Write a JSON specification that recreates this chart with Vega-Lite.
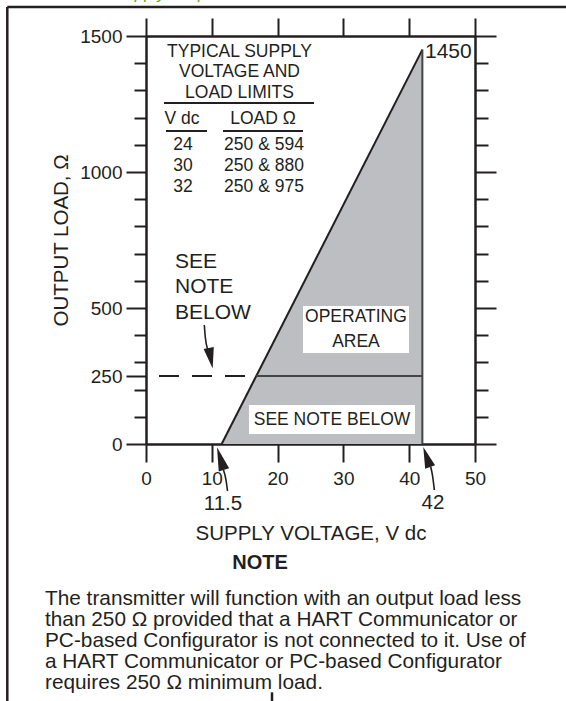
{
  "$schema": "https://vega.github.io/schema/vega-lite/v6.json",
  "width": 329,
  "height": 408,
  "autosize": {"type": "none"},
  "padding": {"left": 146, "top": 36, "right": 91, "bottom": 257},
  "background": "white",
  "config": {
    "view": {"stroke": null},
    "font": "Liberation Sans",
    "axis": {"grid": false, "zindex": 2, "domainColor": "#231f20", "domainWidth": 2.5, "tickColor": "#231f20", "tickWidth": 2, "labelColor": "#231f20", "titleColor": "#231f20", "labelFont": "Liberation Sans", "titleFont": "Liberation Sans", "titleFontWeight": "normal", "labelFlush": false, "labelOverlap": false, "format": "d"}
  },
  "datasets": {
    "poly": [{"x": 11.5, "y": 0}, {"x": 42, "y": 1450}],
    "table": [
      {"x": 14.21, "y": 1441, "t": "TYPICAL SUPPLY"},
      {"x": 14.21, "y": 1367.6, "t": "VOLTAGE AND"},
      {"x": 14.21, "y": 1290.4, "t": "LOAD LIMITS"},
      {"x": 5.47, "y": 1194.9, "t": "V dc"},
      {"x": 17.78, "y": 1194.9, "t": "LOAD Ω"},
      {"x": 5.62, "y": 1099.3, "t": "24"},
      {"x": 17.93, "y": 1099.3, "t": "250 & 594"},
      {"x": 5.62, "y": 1022, "t": "30"},
      {"x": 17.93, "y": 1022, "t": "250 & 880"},
      {"x": 5.62, "y": 944.9, "t": "32"},
      {"x": 17.93, "y": 944.9, "t": "250 & 975"},
      {"x": 31.91, "y": 466.9, "t": "OPERATING"},
      {"x": 31.91, "y": 375, "t": "AREA"},
      {"x": 28.27, "y": 88.2, "t": "SEE NOTE BELOW"}
    ],
    "underlines": [
      {"x": 2.74, "x2": 25.53, "y": 1253.7},
      {"x": 3.04, "x2": 9.27, "y": 1150.7},
      {"x": 11.7, "x2": 23.86, "y": 1150.7}
    ],
    "boxes": [
      {"x": 23.86, "x2": 39.97, "y": 334.6, "y2": 507.4},
      {"x": 15.65, "x2": 40.88, "y": 36.8, "y2": 143.4}
    ],
    "leftnote": [
      {"x": 4.41, "y": 669, "t": "SEE"},
      {"x": 4.41, "y": 577, "t": "NOTE"},
      {"x": 4.41, "y": 481.6, "t": "BELOW"},
      {"x": 42.4, "y": 1441, "t": "1450"}
    ],
    "marks": [
      {"x": 11.7, "y": -218.8, "t": "11.5"},
      {"x": 43.62, "y": -216.9, "t": "42"}
    ],
    "note": [
      {"x": -15.35, "y": -569.9, "t": "The transmitter will function with an output load less"},
      {"x": -15.35, "y": -647.1, "t": "than 250 Ω provided that a HART Communicator or"},
      {"x": -15.35, "y": -724.3, "t": "PC-based Configurator is not connected to it. Use of"},
      {"x": -15.35, "y": -801.5, "t": "a HART Communicator or PC-based Configurator"},
      {"x": -15.35, "y": -878.7, "t": "requires 250 Ω minimum load."}
    ],
    "shafts": [
      {"id": "a", "x": 11.78, "y": -95.6},
      {"id": "a", "x": 12.16, "y": -132.4},
      {"id": "a", "x": 12.39, "y": -172.8},
      {"id": "b", "x": 43.27, "y": -83.5},
      {"id": "b", "x": 43.57, "y": -120.2},
      {"id": "b", "x": 43.82, "y": -169.1},
      {"id": "c", "x": 8.86, "y": 437.5},
      {"id": "c", "x": 9.01, "y": 393.4},
      {"id": "c", "x": 9.35, "y": 349.3}
    ]
  },
  "resolve": {"axis": {"x": "independent", "y": "independent"}},
  "layer": [
    {
      "data": {"name": "poly"},
      "mark": {"type": "area", "color": "#bdbec2", "opacity": 1},
      "encoding": {
        "x": {"field": "x", "type": "quantitative", "scale": {"domain": [0, 50], "nice": false, "zero": false},
          "axis": {"orient": "bottom", "values": [0, 10, 20, 30, 40, 50], "tickSize": 18, "labelFontSize": 19, "labelPadding": 7, "title": "SUPPLY VOLTAGE, V dc", "titleFontSize": 20.5, "titlePadding": 35}},
        "y": {"field": "y", "type": "quantitative", "scale": {"domain": [0, 1500], "nice": false, "zero": false},
          "axis": {"orient": "left", "values": [0, 250, 500, 1000, 1500], "tickSize": 20, "labelFontSize": 19, "labelPadding": 4, "title": "OUTPUT LOAD, Ω", "titleFontSize": 20.5, "titlePadding": 8}},
        "y2": {"datum": 0}
      }
    },
    {
      "data": {"name": "poly"},
      "mark": {"type": "line", "color": "#231f20", "strokeWidth": 2},
      "encoding": {
        "x": {"field": "x", "type": "quantitative", "axis": {"orient": "top", "values": [0, 10, 20, 30, 40, 50], "tickSize": 18, "labels": false, "title": null}},
        "y": {"field": "y", "type": "quantitative", "axis": {"orient": "right", "values": [0, 500, 1000, 1500], "tickSize": 21, "labels": false, "title": null}}
      }
    },
    {
      "data": {"values": [{"x": 42, "y": 0, "y2": 1450}]},
      "mark": {"type": "rule", "color": "#444446", "strokeWidth": 2},
      "encoding": {
        "x": {"field": "x", "type": "quantitative", "axis": null},
        "y": {"field": "y", "type": "quantitative", "axis": {"orient": "left", "values": [100, 200, 300, 400, 600, 700, 800, 900, 1100, 1200, 1300, 1400], "tickSize": 12, "labels": false, "domain": false, "title": null}},
        "y2": {"field": "y2"}
      }
    },
    {
      "data": {"values": [{"x": 16.76, "x2": 42, "y": 250}]},
      "mark": {"type": "rule", "color": "#444446", "strokeWidth": 2},
      "encoding": {
        "x": {"field": "x", "type": "quantitative", "axis": null},
        "x2": {"field": "x2"},
        "y": {"field": "y", "type": "quantitative", "axis": {"orient": "right", "values": [100, 200, 300, 400, 600, 700, 800, 900, 1100, 1200, 1300, 1400], "tickSize": 13, "labels": false, "domain": false, "title": null}}
      }
    },
    {
      "data": {"values": [{"x": 0, "x2": 16.76, "y": 250}]},
      "mark": {"type": "rule", "color": "#231f20", "strokeWidth": 2, "strokeDash": [20, 13], "strokeDashOffset": 20},
      "encoding": {
        "x": {"field": "x", "type": "quantitative", "axis": null},
        "x2": {"field": "x2"},
        "y": {"field": "y", "type": "quantitative", "axis": null}
      }
    },
    {
      "data": {"name": "boxes"},
      "mark": {"type": "rect", "color": "white", "opacity": 1},
      "encoding": {
        "x": {"field": "x", "type": "quantitative", "axis": null},
        "x2": {"field": "x2"},
        "y": {"field": "y", "type": "quantitative", "axis": null},
        "y2": {"field": "y2"}
      }
    },
    {
      "data": {"name": "underlines"},
      "mark": {"type": "rule", "color": "#231f20", "strokeWidth": 1.8},
      "encoding": {
        "x": {"field": "x", "type": "quantitative", "axis": null},
        "x2": {"field": "x2"},
        "y": {"field": "y", "type": "quantitative", "axis": null}
      }
    },
    {
      "data": {"values": [
        {"x": -21.08, "x2": -21.08, "y": 1606.6, "y2": -1000},
        {"x": -21.08, "x2": 70, "y": 1606.6, "y2": 1606.6},
        {"x": 19.15, "x2": 19.15, "y": -913, "y2": -1000}
      ]},
      "mark": {"type": "rule", "color": "#231f20", "strokeWidth": 2.5},
      "encoding": {
        "x": {"field": "x", "type": "quantitative", "axis": null},
        "x2": {"field": "x2"},
        "y": {"field": "y", "type": "quantitative", "axis": null},
        "y2": {"field": "y2"}
      }
    },
    {
      "data": {"name": "shafts"},
      "mark": {"type": "line", "color": "#231f20", "strokeWidth": 1.6, "interpolate": "monotone"},
      "encoding": {
        "x": {"field": "x", "type": "quantitative", "axis": null},
        "y": {"field": "y", "type": "quantitative", "axis": null},
        "detail": {"field": "id"},
        "order": {"field": "y"}
      }
    },
    {
      "data": {"values": [{"x": 11.32, "y": -53.3}]},
      "mark": {"type": "point", "shape": "M0,-1L0.46,1L-0.46,1Z", "angle": -17, "size": 560, "filled": true, "color": "#231f20", "opacity": 1},
      "encoding": {
        "x": {"field": "x", "type": "quantitative", "axis": null},
        "y": {"field": "y", "type": "quantitative", "axis": null}
      }
    },
    {
      "data": {"values": [{"x": 42.66, "y": -47.8}]},
      "mark": {"type": "point", "shape": "M0,-1L0.5,1L-0.5,1Z", "angle": -19, "size": 441, "filled": true, "color": "#231f20", "opacity": 1},
      "encoding": {
        "x": {"field": "x", "type": "quantitative", "axis": null},
        "y": {"field": "y", "type": "quantitative", "axis": null}
      }
    },
    {
      "data": {"values": [{"x": 9.83, "y": 315.4}]},
      "mark": {"type": "point", "shape": "M0,-1L0.5,1L-0.5,1Z", "angle": 169, "size": 430, "filled": true, "color": "#231f20", "opacity": 1},
      "encoding": {
        "x": {"field": "x", "type": "quantitative", "axis": null},
        "y": {"field": "y", "type": "quantitative", "axis": null}
      }
    },
    {
      "data": {"name": "table"},
      "mark": {"type": "text", "fontSize": 17.5, "align": "center", "baseline": "middle", "color": "#231f20"},
      "encoding": {
        "x": {"field": "x", "type": "quantitative", "axis": null},
        "y": {"field": "y", "type": "quantitative", "axis": null},
        "text": {"field": "t"}
      }
    },
    {
      "data": {"name": "leftnote"},
      "mark": {"type": "text", "fontSize": 21, "align": "left", "baseline": "middle", "color": "#231f20"},
      "encoding": {
        "x": {"field": "x", "type": "quantitative", "axis": null},
        "y": {"field": "y", "type": "quantitative", "axis": null},
        "text": {"field": "t"}
      }
    },
    {
      "data": {"name": "marks"},
      "mark": {"type": "text", "fontSize": 20.5, "align": "center", "baseline": "middle", "color": "#231f20"},
      "encoding": {
        "x": {"field": "x", "type": "quantitative", "axis": null},
        "y": {"field": "y", "type": "quantitative", "axis": null},
        "text": {"field": "t"}
      }
    },
    {
      "data": {"values": [{"x": 17.33, "y": -437.5, "t": "NOTE"}]},
      "mark": {"type": "text", "fontSize": 20, "fontWeight": "bold", "align": "center", "baseline": "middle", "color": "#231f20"},
      "encoding": {
        "x": {"field": "x", "type": "quantitative", "axis": null},
        "y": {"field": "y", "type": "quantitative", "axis": null},
        "text": {"field": "t"}
      }
    },
    {
      "data": {"name": "note"},
      "mark": {"type": "text", "fontSize": 20.8, "align": "left", "baseline": "middle", "color": "#231f20"},
      "encoding": {
        "x": {"field": "x", "type": "quantitative", "axis": null},
        "y": {"field": "y", "type": "quantitative", "axis": null},
        "text": {"field": "t"}
      }
    },
    {
      "data": {"values": [{"x": -12.92, "y": 1637, "t": "Power Supply Requirements and Load Resistance"}]},
      "mark": {"type": "text", "fontSize": 17, "fontStyle": "italic", "align": "left", "baseline": "alphabetic", "color": "#5cad2e"},
      "encoding": {
        "x": {"field": "x", "type": "quantitative", "axis": null},
        "y": {"field": "y", "type": "quantitative", "axis": null},
        "text": {"field": "t"}
      }
    }
  ]
}
